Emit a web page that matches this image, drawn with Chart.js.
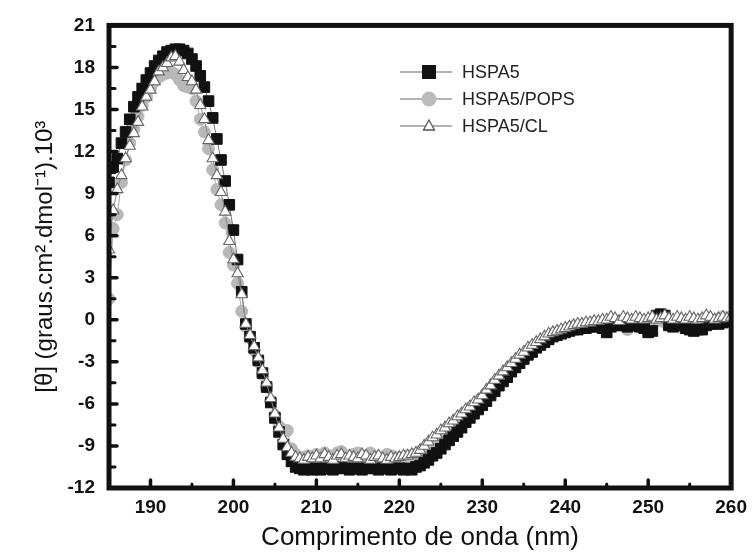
<!DOCTYPE html>
<html>
<head>
<meta charset="utf-8">
<script src="https://cdn.jsdelivr.net/npm/chart.js@4.4.0/dist/chart.umd.min.js"></script>
<style>
  html, body { margin: 0; padding: 0; background: #fff; }
  #wrap { width: 755px; height: 553px; position: relative; }
</style>
</head>
<body>
<div id="wrap"><canvas id="cdChart"></canvas></div>
<script>
// --- DATOS (espectro de CD) ---
const wavelength = [
  185, 185.5, 186, 186.5, 187, 187.5, 188, 188.5, 189, 189.5,
  190, 190.5, 191, 191.5, 192, 192.5, 193, 193.5, 194, 194.5,
  195, 195.5, 196, 196.5, 197, 197.5, 198, 198.5, 199, 199.5,
  200, 200.5, 201, 201.5, 202, 202.5, 203, 203.5, 204, 204.5,
  205, 205.5, 206, 206.5, 207, 207.5, 208, 208.5, 209, 209.5,
  210, 210.5, 211, 211.5, 212, 212.5, 213, 213.5, 214, 214.5,
  215, 215.5, 216, 216.5, 217, 217.5, 218, 218.5, 219, 219.5,
  220, 220.5, 221, 221.5, 222, 222.5, 223, 223.5, 224, 224.5,
  225, 225.5, 226, 226.5, 227, 227.5, 228, 228.5, 229, 229.5,
  230, 230.5, 231, 231.5, 232, 232.5, 233, 233.5, 234, 234.5,
  235, 235.5, 236, 236.5, 237, 237.5, 238, 238.5, 239, 239.5,
  240, 240.5, 241, 241.5, 242, 242.5, 243, 243.5, 244, 244.5,
  245, 245.5, 246, 246.5, 247, 247.5, 248, 248.5, 249, 249.5,
  250, 250.5, 251, 251.5, 252, 252.5, 253, 253.5, 254, 254.5,
  255, 255.5, 256, 256.5, 257, 257.5, 258, 258.5, 259, 259.5,
  260
];

const hspa5 = [
  9.8, 10.9, 11.5, 12.6, 13.4, 14.3, 15.2, 15.9, 16.5, 17.1,
  17.6, 18.1, 18.5, 18.8, 19.1, 19.2, 19.3, 19.3, 19.2, 19.0,
  18.6, 18.1, 17.4, 16.6, 15.6, 14.4, 12.9, 11.4, 9.9, 8.2,
  6.4, 4.3, 2.0, -0.3, -1.2, -2.0, -2.9, -3.8, -4.8, -5.9,
  -7.0, -8.0, -8.9, -9.6, -10.1, -10.5, -10.6, -10.7, -10.6, -10.7,
  -10.6, -10.7, -10.6, -10.6, -10.7, -10.6, -10.5, -10.6, -10.7, -10.6,
  -10.6, -10.7, -10.6, -10.5, -10.6, -10.7, -10.6, -10.6, -10.7, -10.6,
  -10.6, -10.7, -10.6, -10.7, -10.5, -10.4, -10.2, -10.0, -9.7, -9.5,
  -9.2, -8.9, -8.6, -8.3, -8.0, -7.7, -7.3, -7.0, -6.7, -6.4,
  -6.1, -5.8, -5.4, -5.1, -4.7, -4.4, -4.1, -3.7, -3.4, -3.1,
  -2.8, -2.5, -2.3, -2.0, -1.8, -1.6, -1.4, -1.2, -1.1, -1.0,
  -0.9, -0.8, -0.7, -0.7, -0.6, -0.6, -0.5, -0.5, -0.4, -0.6,
  -0.9, -0.5, -0.4, -0.3, -0.4, -0.5, -0.3, -0.4, -0.5, -0.6,
  -0.9, -0.8, 0.3, 0.4, 0.3, -0.4, -0.5, -0.3, -0.4, -0.6,
  -0.7, -0.8, -0.7, -0.7, -0.4, -0.3, -0.2, -0.3, -0.2, -0.1,
  -0.1
];

const hspa5Pops = [
  1.5, 6.5, 7.5, 9.8, 11.4, 12.6, 13.6, 14.5, 15.3, 15.9,
  16.5, 17.0, 17.3, 17.5, 17.6, 17.7, 17.5, 17.1, 16.7, 16.6,
  16.5, 15.6, 14.3, 13.4, 12.2, 10.7, 9.3, 8.2, 6.9, 4.8,
  3.9, 2.6, 0.6, -0.5, -1.3, -2.2, -3.0, -3.9, -4.8, -5.8,
  -6.8, -7.6, -8.0, -7.9, -9.2, -9.6, -9.9, -9.8, -9.7, -9.9,
  -9.6, -9.8, -9.5, -9.7, -9.9, -9.5, -9.4, -9.7, -9.8, -9.6,
  -9.5, -9.8, -9.7, -9.5, -9.7, -9.9, -9.8, -9.6, -9.7, -9.8,
  -9.9, -9.8, -9.7, -9.7, -9.6, -9.4, -9.2, -8.9, -8.7, -8.4,
  -8.2, -7.9, -7.7, -7.4, -7.1, -6.8, -6.6, -6.3, -6.1, -5.8,
  -5.6, -5.2, -4.9, -4.5, -4.2, -3.9, -3.6, -3.3, -3.0, -2.7,
  -2.5, -2.2, -2.0, -1.8, -1.6, -1.4, -1.2, -1.0, -0.9, -0.8,
  -0.7, -0.6, -0.5, -0.4, -0.4, -0.3, -0.3, -0.2, -0.3, -0.2,
  -0.6, -0.3, -0.2, -0.1, -0.2, -0.7, -0.4, -0.2, -0.1, -0.2,
  -0.3, -0.2, -0.1, 0.0, -0.2, -0.3, -0.1, 0.0, -0.2, -0.1,
  0.0, -0.1, -0.2, 0.0, 0.1, 0.0, -0.1, 0.1, 0.2, 0.1,
  0.2
];

const hspa5Cl = [
  5.0, 7.8, 9.3, 10.3, 11.5, 12.4, 13.3, 14.1, 15.2, 15.9,
  16.4, 17.0, 17.7, 18.0, 18.3, 18.7, 18.8, 18.4, 17.8, 17.3,
  17.0, 16.4, 15.3, 14.3, 12.8, 11.5, 10.3, 9.1, 7.7, 5.6,
  4.3, 3.3, 1.8, -0.3, -1.1, -1.9, -2.7, -3.6, -4.5, -5.6,
  -6.7, -7.7, -8.5, -9.1, -9.5, -9.8, -9.9, -10.0, -9.8, -9.9,
  -9.7, -9.9, -9.6, -9.8, -10.0, -9.7, -9.6, -9.9, -9.7, -9.8,
  -9.9, -9.6, -9.7, -10.0, -9.8, -9.7, -9.9, -10.0, -9.8, -9.9,
  -9.8, -9.7, -9.7, -9.6, -9.5, -9.3, -9.0, -8.7, -8.4, -8.2,
  -7.9, -7.7, -7.4, -7.2, -6.9, -6.7, -6.4, -6.2, -5.9, -5.7,
  -5.4, -5.0, -4.7, -4.3, -4.0, -3.7, -3.4, -3.1, -2.8, -2.5,
  -2.3, -2.0, -1.8, -1.6, -1.4, -1.2, -1.0, -0.9, -0.8, -0.7,
  -0.6, -0.5, -0.4, -0.3, -0.3, -0.2, -0.2, -0.1, -0.1, 0.0,
  0.0, 0.2, 0.1, -0.1, 0.2, 0.1, 0.0, 0.2, 0.1, 0.0,
  0.1, 0.2, 0.0, 0.1, 0.3, 0.1, 0.0, 0.2, 0.1, 0.0,
  0.2, 0.1, 0.0, 0.1, 0.3, 0.2, 0.0, 0.1, 0.2, 0.1,
  0.2
];

const seriesNames = ['HSPA5', 'HSPA5/POPS', 'HSPA5/CL'];
const xTickValues = [190, 200, 210, 220, 230, 240, 250, 260];
const yTickValues = [-12, -9, -6, -3, 0, 3, 6, 9, 12, 15, 18, 21];

const FONT = '"Liberation Sans", Arial, Helvetica, sans-serif';

const toPoints = (vals) => vals.map((v, i) => ({ x: wavelength[i], y: v }));

// --- MARCO Y TICKS HACIA ADENTRO ---
const frameTicks = {
    id: 'frameTicks',
    afterDatasetsDraw(chart) {
        const { ctx, chartArea: a, scales: { x, y } } = chart;
        ctx.save();
        ctx.strokeStyle = '#111';
        ctx.lineCap = 'round';
        const seg = (x1, y1, x2, y2, w) => {
            ctx.lineWidth = w;
            ctx.beginPath(); ctx.moveTo(x1, y1); ctx.lineTo(x2, y2); ctx.stroke();
        };
        xTickValues.forEach((v, i) => {
            const px = x.getPixelForValue(v);
            seg(px, a.bottom, px, a.bottom - 8, 3.5);
            if (i < xTickValues.length - 1) {
                const pm = x.getPixelForValue(v + 5);
                seg(pm, a.bottom, pm, a.bottom - 4, 3);
            }
        });
        yTickValues.forEach((v, i) => {
            const py = y.getPixelForValue(v);
            seg(a.left, py, a.left + 8, py, 3.5);
            if (i < yTickValues.length - 1) {
                const pm = y.getPixelForValue(v + 1.5);
                seg(a.left, pm, a.left + 6, pm, 3);
            }
        });
        ctx.lineCap = 'butt';
        ctx.lineWidth = 5;
        ctx.strokeRect(a.left, a.top, a.right - a.left, a.bottom - a.top);
        ctx.restore();
    }
};

// --- LEYENDA (línea + marcador + texto) ---
const cdLegend = {
    id: 'cdLegend',
    afterDraw(chart) {
        const { ctx } = chart;
        const x0 = 400, x1 = 452, xm = 429, xt = 462;
        const rows = [72, 99, 126];
        ctx.save();
        ctx.font = '18px ' + FONT;
        ctx.textBaseline = 'middle';
        rows.forEach((ry, i) => {
            ctx.strokeStyle = '#9a9a9a';
            ctx.lineWidth = 1.5;
            ctx.beginPath(); ctx.moveTo(x0, ry); ctx.lineTo(x1, ry); ctx.stroke();
            if (i === 0) {
                ctx.fillStyle = '#111';
                ctx.fillRect(xm - 7, ry - 7, 14, 14);
            } else if (i === 1) {
                ctx.fillStyle = '#bcbcbc';
                ctx.beginPath(); ctx.arc(xm, ry, 7.5, 0, Math.PI * 2); ctx.fill();
            } else {
                ctx.fillStyle = '#fff';
                ctx.strokeStyle = '#555';
                ctx.lineWidth = 1.3;
                ctx.beginPath();
                ctx.moveTo(xm, ry - 6); ctx.lineTo(xm + 5.5, ry + 4); ctx.lineTo(xm - 5.5, ry + 4);
                ctx.closePath(); ctx.fill(); ctx.stroke();
            }
            ctx.fillStyle = '#222';
            ctx.fillText(seriesNames[i], xt, ry + 1);
        });
        ctx.restore();
    }
};

const ctx = document.getElementById('cdChart').getContext('2d');
const cdChart = new Chart(ctx, {
    type: 'line',
    data: {
        datasets: [
            {
                label: seriesNames[2], data: toPoints(hspa5Cl), order: 0,
                borderColor: '#8a8a8a', borderWidth: 1,
                pointStyle: 'triangle', pointRadius: 6.5,
                pointBackgroundColor: '#fff', pointBorderColor: '#666', pointBorderWidth: 1.1
            },
            {
                label: seriesNames[0], data: toPoints(hspa5), order: 1,
                borderColor: '#777', borderWidth: 1,
                pointStyle: 'rect', pointRadius: 7.5,
                pointBackgroundColor: '#111', pointBorderColor: '#111', pointBorderWidth: 1
            },
            {
                label: seriesNames[1], data: toPoints(hspa5Pops), order: 2,
                borderColor: '#aaa', borderWidth: 1,
                pointStyle: 'circle', pointRadius: 6,
                pointBackgroundColor: '#b8b8b8', pointBorderColor: '#b8b8b8', pointBorderWidth: 1
            }
        ]
    },
    options: {
        responsive: true,
        maintainAspectRatio: false,
        animation: false,
        devicePixelRatio: 1,
        layout: { padding: { top: 22, right: 19, left: 0, bottom: 0 } },
        elements: { line: { tension: 0 } },
        plugins: { legend: { display: false }, tooltip: { enabled: false } },
        scales: {
            x: {
                type: 'linear', min: 185, max: 260,
                afterFit: s => { s.height = 65; },
                afterBuildTicks: s => { s.ticks = xTickValues.map(v => ({ value: v })); },
                grid: { display: false, drawTicks: false },
                border: { display: false },
                ticks: { padding: 8, color: '#111', font: { family: FONT, size: 19, weight: 'bold' } },
                title: {
                    display: true, text: 'Comprimento de onda (nm)', color: '#111',
                    font: { family: FONT, size: 26 }, padding: { top: 0, bottom: 0 }
                }
            },
            y: {
                type: 'linear', min: -12, max: 21,
                afterFit: s => { s.width = 109; },
                afterBuildTicks: s => { s.ticks = yTickValues.map(v => ({ value: v })); },
                grid: { display: false, drawTicks: false },
                border: { display: false },
                ticks: { padding: 14, color: '#111', font: { family: FONT, size: 19, weight: 'bold' } },
                title: {
                    display: true, text: '[θ] (graus.cm².dmol⁻¹).10³', color: '#111',
                    font: { family: FONT, size: 24 }, padding: { top: 31, bottom: 0 }
                }
            }
        }
    },
    plugins: [frameTicks, cdLegend]
});
</script>
</body>
</html>
